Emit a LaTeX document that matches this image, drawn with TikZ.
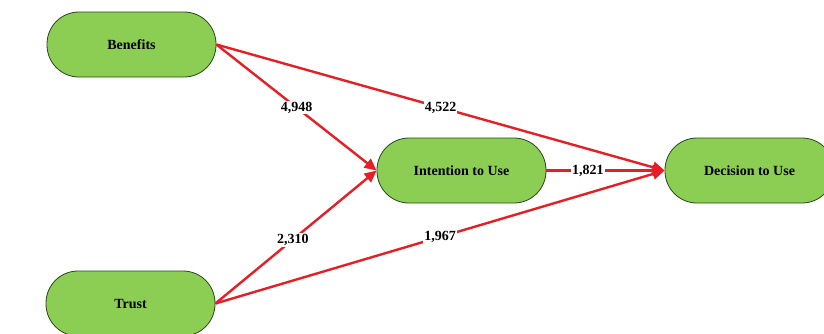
\documentclass[tikz,border=0pt]{standalone}
\usepackage{fontspec}
\setmainfont{Liberation Serif}
\usetikzlibrary{arrows.meta}
\definecolor{boxgreen}{RGB}{140,206,84}
\definecolor{boxline}{RGB}{40,70,30}
\definecolor{arrowred}{RGB}{232,30,36}
\begin{document}
\begin{tikzpicture}[x=1pt,y=-1pt,
  construct/.style={draw=boxline,fill=boxgreen,line width=0.8pt,rounded corners=32pt,
    minimum width=169pt,minimum height=65pt,inner sep=0pt,
    font=\bfseries\fontsize{14}{16}\selectfont},
  path/.style={draw=arrowred,line width=2.4pt,-{Triangle[length=12pt,width=11pt]}},
  coef/.style={fill=white,inner sep=1.2pt,font=\bfseries\fontsize{14}{16}\selectfont}]
\useasboundingbox (0,0) rectangle (824,333);
\node[construct] (ben) at (131.5,44.5) {Benefits};
\node[construct] (tru) at (130.5,303.5) {Trust};
\node[construct] (int) at (461.5,170.5) {Intention to Use};
\node[construct] (dec) at (749.5,170.5) {Decision to Use};
\draw[path] (ben.east) -- node[coef,pos=0.5] {4,948} (int.west);
\draw[path] (ben.east) -- node[coef,pos=0.5] {4,522} (dec.west);
\draw[path] (tru.east) -- node[coef,pos=0.48] {2,310} (int.west);
\draw[path] (tru.east) -- node[coef,pos=0.5] {1,967} (dec.west);
\draw[path] (int.east) -- node[coef,pos=0.35] {1,821} (dec.west);
\end{tikzpicture}
\end{document}
